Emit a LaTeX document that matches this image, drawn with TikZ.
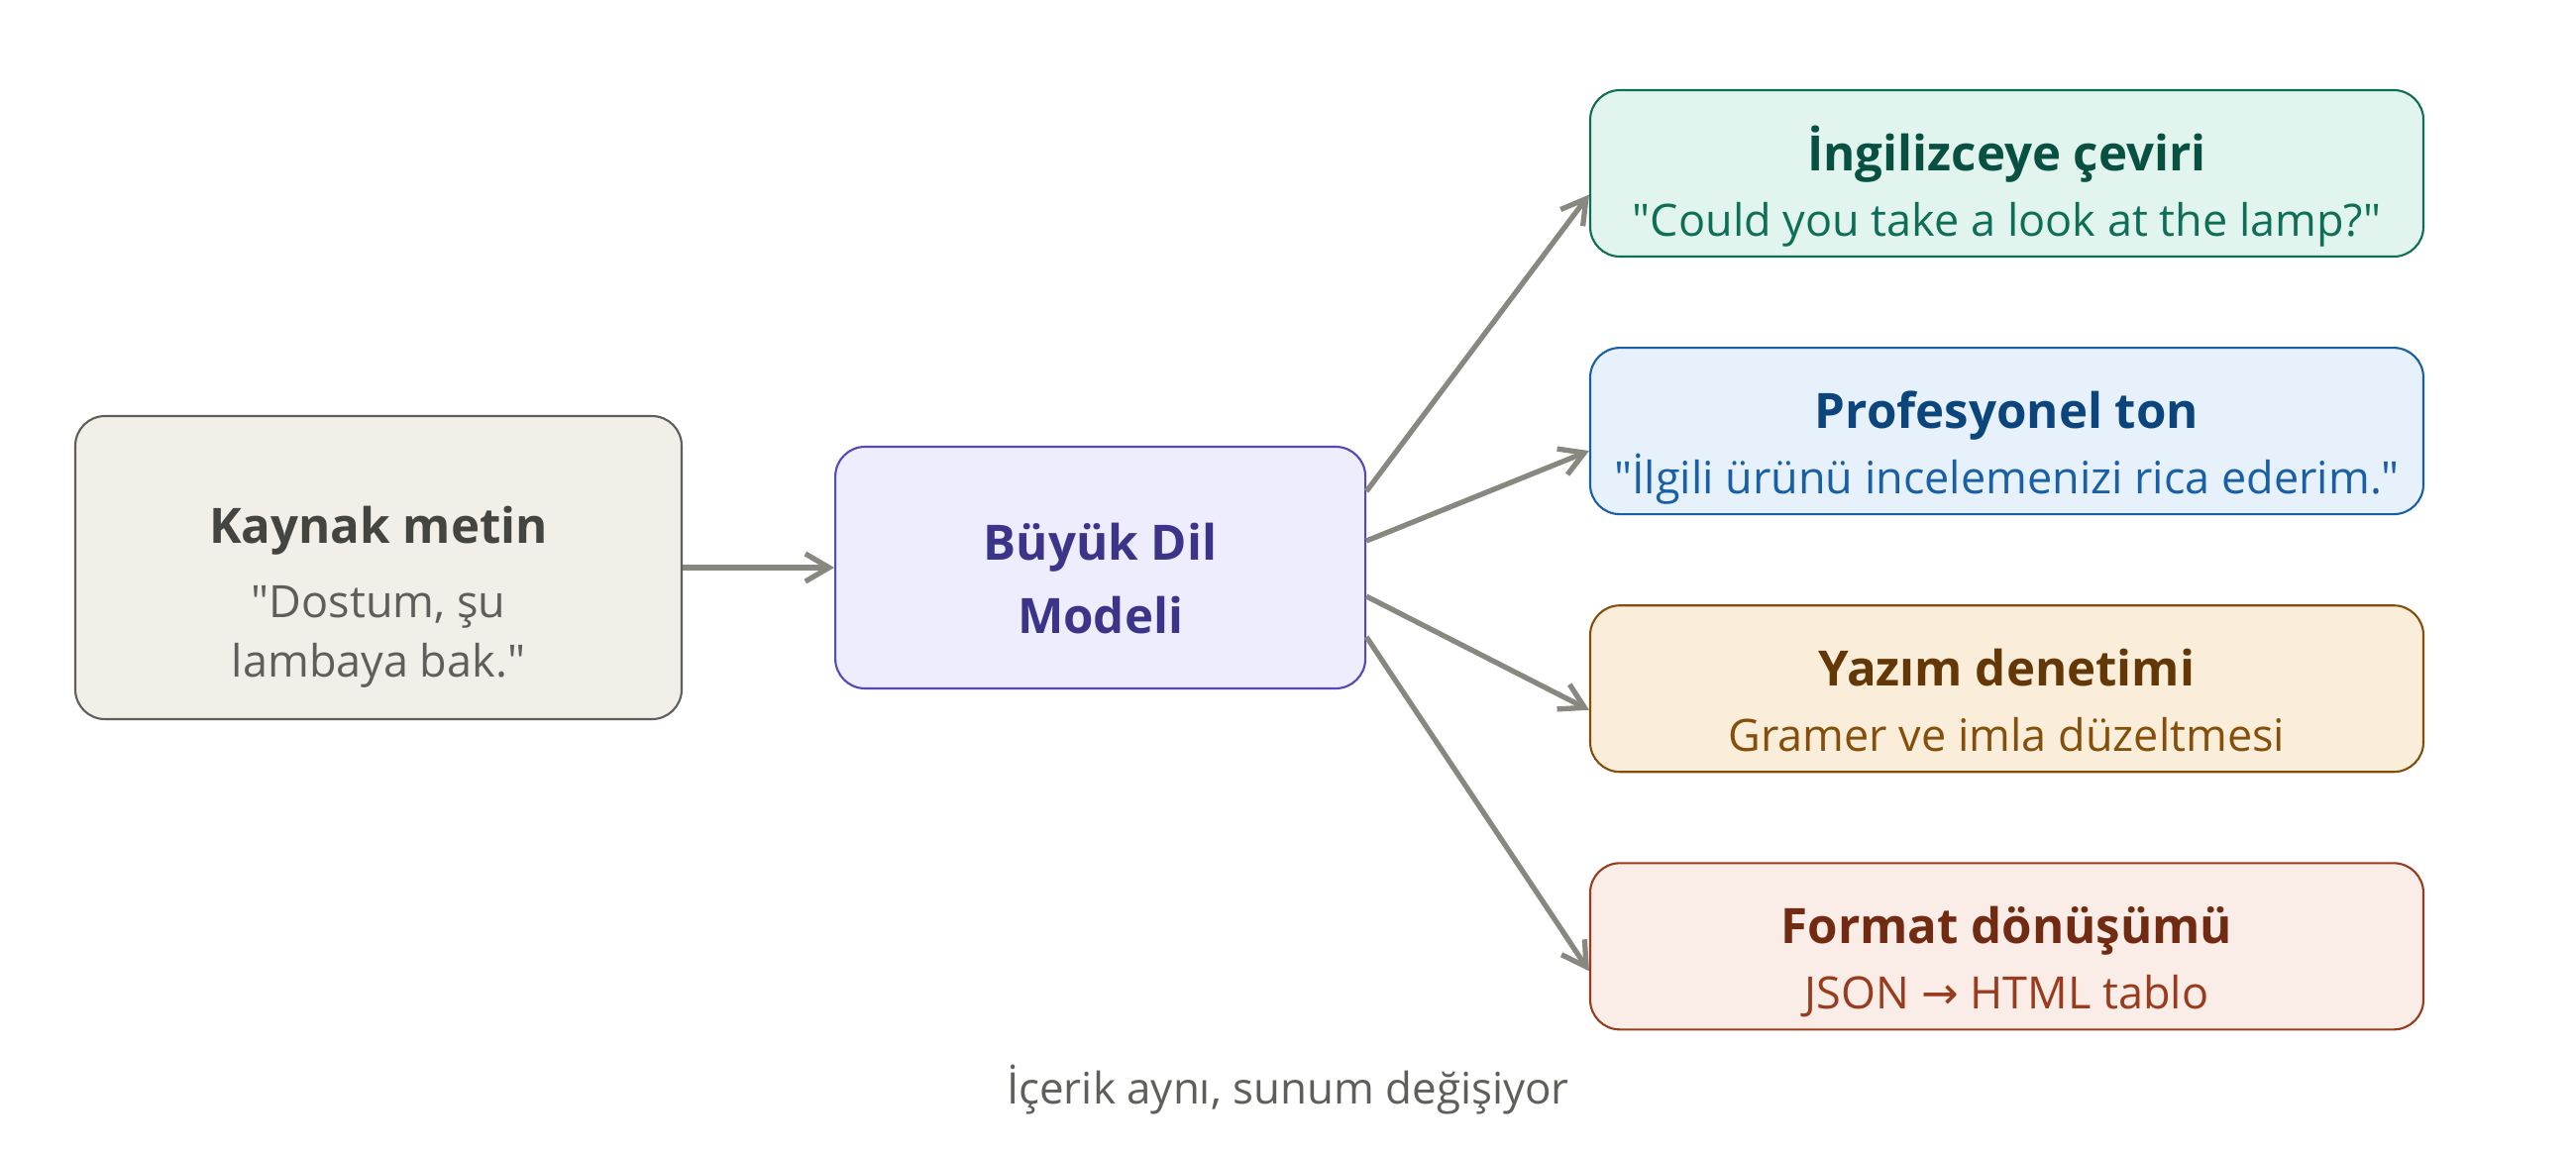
\documentclass[tikz,border=0pt]{standalone}
\usepackage{fontspec}
\setmainfont{Open Sans}[Ligatures=TeXOff]
\newfontfamily\arrowfont{DejaVu Sans}
\usetikzlibrary{arrows.meta, positioning}

\definecolor{srcfill}{HTML}{F1EFE8}
\definecolor{srcline}{HTML}{5F5E5A}
\definecolor{srctext}{HTML}{444441}
\definecolor{llmfill}{HTML}{EEEDFE}
\definecolor{llmline}{HTML}{534AB7}
\definecolor{llmtext}{HTML}{3C3489}
\definecolor{engfill}{HTML}{E1F5EE}
\definecolor{engline}{HTML}{0F6E56}
\definecolor{engtext}{HTML}{085041}
\definecolor{proffill}{HTML}{E6F1FB}
\definecolor{profline}{HTML}{185FA5}
\definecolor{proftext}{HTML}{0C447C}
\definecolor{spellfill}{HTML}{FAEEDA}
\definecolor{spellline}{HTML}{854F0B}
\definecolor{spelltext}{HTML}{633806}
\definecolor{fmtfill}{HTML}{FAECE7}
\definecolor{fmtline}{HTML}{993C1D}
\definecolor{fmttext}{HTML}{712B13}
\definecolor{arrowgray}{HTML}{888780}

\tikzset{
  box/.style={draw, rounded corners=0.3cm, line width=0.6pt, inner sep=0pt},
  outbox/.style={box, minimum width=8.41cm, minimum height=1.68cm},
  ttl/.style={anchor=base, inner sep=0pt, font=\fontsize{14}{17}\selectfont\bfseries},
  sbt/.style={anchor=base, inner sep=0pt, font=\fontsize{12.8}{15}\selectfont},
  flow/.style={draw=arrowgray, line width=1.5pt, -{Straight Barb[length=2.4mm,width=2.8mm]}},
}

\begin{document}
\begin{tikzpicture}
  \path[use as bounding box, fill=white] (0,0) rectangle (26,11.65);

  % source and model
  \node[box, fill=srcfill, draw=srcline, minimum width=6.12cm, minimum height=3.06cm] (src) at (3.82, 5.92) {};
  \node[box, fill=llmfill, draw=llmline, minimum width=5.35cm, minimum height=2.44cm, right=1.53cm of src] (llm) {};

  \node[ttl, text=srctext] (src-t) at ([yshift=0.25cm]src.center) {Kaynak metin};
  \node[sbt, text=srcline] (src-a) at ([yshift=-0.50cm]src.center) {"Dostum, şu};
  \node[sbt, text=srcline] (src-b) at ([yshift=-1.10cm]src.center) {lambaya bak."};
  \node[ttl, text=llmtext] (llm-a) at ([yshift=0.08cm]llm.center) {Büyük Dil};
  \node[ttl, text=llmtext] (llm-b) at ([yshift=-0.66cm]llm.center) {Modeli};

  % outputs
  \node[outbox, fill=engfill, draw=engline] (eng) at (20.255, 9.90) {};
  \node[outbox, fill=proffill, draw=profline, below=0.90cm of eng] (prof) {};
  \node[outbox, fill=spellfill, draw=spellline, below=0.90cm of prof] (spell) {};
  \node[outbox, fill=fmtfill, draw=fmtline, below=0.90cm of spell] (fmt) {};

  \node[ttl, text=engtext] (eng-t) at ([yshift=0.025cm]eng.center) {İngilizceye çeviri};
  \node[sbt, text=engline] (eng-s) at ([yshift=-0.635cm]eng.center) {"Could you take a look at the lamp?"};
  \node[ttl, text=proftext] (prof-t) at ([yshift=0.025cm]prof.center) {Profesyonel ton};
  \node[sbt, text=profline] (prof-s) at ([yshift=-0.635cm]prof.center) {"İlgili ürünü incelemenizi rica ederim."};
  \node[ttl, text=spelltext] (spell-t) at ([yshift=0.025cm]spell.center) {Yazım denetimi};
  \node[sbt, text=spellline] (spell-s) at ([yshift=-0.635cm]spell.center) {Gramer ve imla düzeltmesi};
  \node[ttl, text=fmttext] (fmt-t) at ([yshift=0.025cm]fmt.center) {Format dönüşümü};
  \node[sbt, text=fmtline] (fmt-s) at ([yshift=-0.635cm]fmt.center) {JSON {\arrowfont →} HTML tablo};

  % arrows
  \draw[flow] (src) -- (llm);
  \draw[flow] ([yshift=0.77cm]llm.east) -- ([yshift=-0.215cm]eng.west);
  \draw[flow] ([yshift=0.27cm]llm.east) -- ([yshift=-0.20cm]prof.west);
  \draw[flow] ([yshift=-0.29cm]llm.east) -- ([yshift=-0.215cm]spell.west);
  \draw[flow] ([yshift=-0.70cm]llm.east) -- ([yshift=-0.25cm]fmt.west);

  \node[sbt, font=\fontsize{12.5}{15}\selectfont, text=srcline] (note) at (13.0, 0.51) {İçerik aynı, sunum değişiyor};
\end{tikzpicture}
\end{document}
